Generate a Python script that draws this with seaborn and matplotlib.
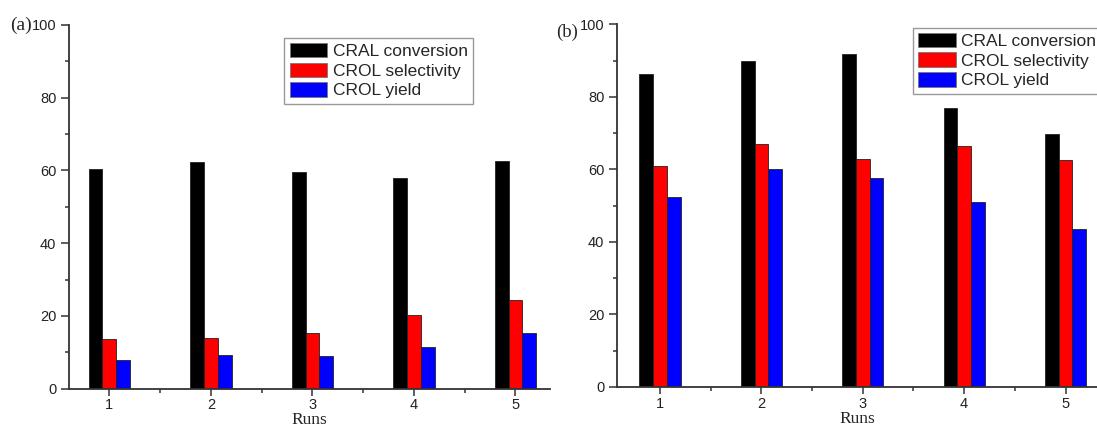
import numpy as np
import pandas as pd
import matplotlib
matplotlib.use("Agg")
import matplotlib.pyplot as plt
import seaborn as sns

runs = ["1", "2", "3", "4", "5"]
series = ["CRAL conversion", "CROL selectivity", "CROL yield"]
a_conversion = [60.4, 62.2, 59.6, 58.0, 62.6]
a_selectivity = [13.7, 14.0, 15.2, 20.3, 24.5]
a_yield = [7.8, 9.3, 9.1, 11.4, 15.4]
b_conversion = [86.2, 89.8, 91.8, 76.8, 69.8]
b_selectivity = [61.0, 67.0, 62.9, 66.5, 62.6]
b_yield = [52.5, 60.0, 57.7, 51.1, 43.6]
colors = ["#000000", "#ff0000", "#0000ff"]

sns.set_style("ticks")
plt.rcParams['font.family'] = ['Liberation Sans', 'DejaVu Sans']


def make_df(conv, sel, yld):
    rows = []
    for name, vals in zip(series, [conv, sel, yld]):
        for r, v in zip(runs, vals):
            rows.append({"Run": r, "Value": v, "Series": name})
    return pd.DataFrame(rows)


fig = plt.figure(figsize=(10.97, 4.30), dpi=100)
W, H = 1097, 430
ax_a = fig.add_axes([69 / W, (H - 388.7) / H, (550 - 69) / W, (388.7 - 25) / H])
ax_b = fig.add_axes([617 / W, (H - 387) / H, (1097 - 617) / W, (387 - 24.3) / H])

panels = [
    (ax_a, make_df(a_conversion, a_selectivity, a_yield), (-0.397, 4.34), (0.448, 0.965)),
    (ax_b, make_df(b_conversion, b_selectivity, b_yield), (-0.424, 4.31), (0.617, 0.991)),
]

for ax, df, xl, lpos in panels:
    sns.barplot(data=df, x="Run", y="Value", hue="Series", palette=colors,
                width=0.407, edgecolor="#222222", linewidth=0.6, ax=ax,
                saturation=1, errorbar=None)
    ax.set_xlim(*xl)
    ax.set_ylim(0, 100)
    ax.set_yticks([0, 20, 40, 60, 80, 100])
    ax.set_yticks([10, 30, 50, 70, 90], minor=True)
    ax.set_xticks([0.5, 1.5, 2.5, 3.5], minor=True)
    ax.set_ylabel("")
    ax.set_xlabel("Runs", family="Liberation Serif", fontsize=12.5, labelpad=0)
    for s in ["top", "right"]:
        ax.spines[s].set_visible(False)
    for s in ["left", "bottom"]:
        ax.spines[s].set_color("#333333")
        ax.spines[s].set_linewidth(1.3)
    ax.tick_params(axis="y", which="major", length=6, width=1.1, color="#333333",
                   labelsize=10.5, labelcolor="#222222", pad=3)
    ax.tick_params(axis="x", which="major", length=5, width=1.1, color="#333333",
                   labelsize=10.5, labelcolor="#222222", pad=2)
    ax.tick_params(axis="both", which="minor", length=2.8, width=1.1, color="#333333")
    sns.move_legend(ax, loc="upper left", bbox_to_anchor=lpos, borderaxespad=0,
                    title=None, fontsize=12.5, frameon=True, fancybox=False,
                    edgecolor="#999999", framealpha=1, handlelength=2.15,
                    handleheight=0.9, handletextpad=0.33, labelspacing=0.2,
                    borderpad=0.3)
    ax.get_legend().get_frame().set_linewidth(1.0)
    for h in ax.get_legend().legend_handles:
        h.set_edgecolor("#777777")

fig.text(10 / W, 1 - 25 / H, "(a)", family="Liberation Serif", fontsize=14, va="center", ha="left")
fig.text(556 / W, 1 - 32 / H, "(b)", family="Liberation Serif", fontsize=13.5, va="center", ha="left")

fig.savefig("out.png", dpi=100)
